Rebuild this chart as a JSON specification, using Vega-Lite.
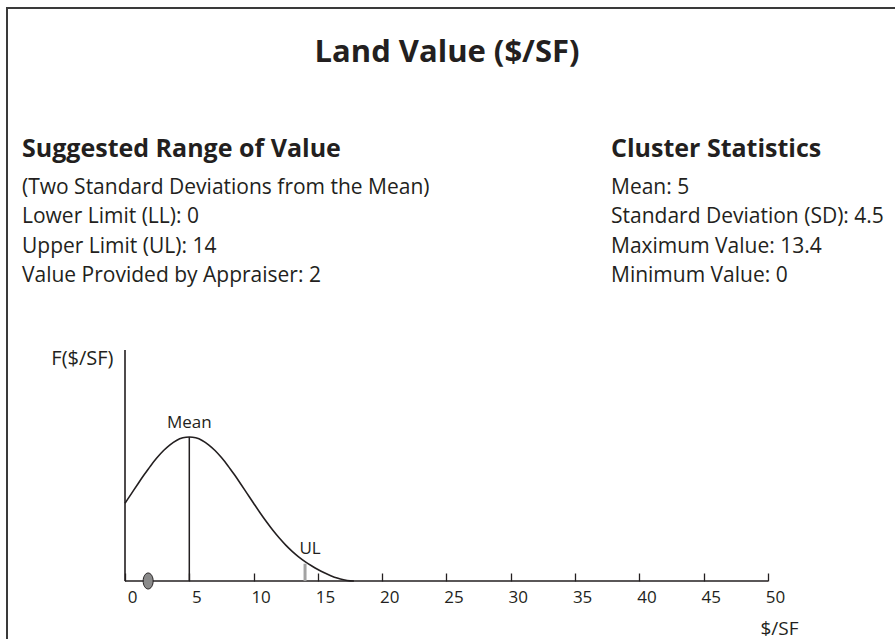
{
  "$schema": "https://vega.github.io/schema/vega-lite/v6.json",
  "autosize": "none",
  "width": 892,
  "height": 635,
  "padding": {"left": 7, "top": 8, "right": -4, "bottom": -4},
  "background": "white",
  "config": {
    "view": {"stroke": "#3a3a3a", "strokeWidth": 2, "fill": "white"},
    "font": "Open Sans",
    "text": {"color": "#231f20", "font": "Open Sans"}
  },
  "title": {
    "text": "Land Value ($/SF)",
    "anchor": "middle",
    "frame": "group",
    "offset": -85,
    "baseline": "alphabetic",
    "fontSize": 31,
    "fontWeight": "bold",
    "font": "Open Sans",
    "color": "#231f20",
    "dx": -6
  },
  "datasets": {
    "curve": [
      {"x": 0, "f": 0.54}, {"x": 0.5, "f": 0.607}, {"x": 1, "f": 0.674}, {"x": 1.5, "f": 0.739},
      {"x": 2, "f": 0.801}, {"x": 2.5, "f": 0.857}, {"x": 3, "f": 0.906}, {"x": 3.5, "f": 0.946},
      {"x": 4, "f": 0.976}, {"x": 4.5, "f": 0.994}, {"x": 5, "f": 1.0}, {"x": 5.5, "f": 0.994},
      {"x": 6, "f": 0.976}, {"x": 6.5, "f": 0.946}, {"x": 7, "f": 0.906}, {"x": 7.5, "f": 0.857},
      {"x": 8, "f": 0.801}, {"x": 8.5, "f": 0.739}, {"x": 9, "f": 0.674}, {"x": 9.5, "f": 0.607},
      {"x": 10, "f": 0.54}, {"x": 10.5, "f": 0.474}, {"x": 11, "f": 0.411}, {"x": 11.5, "f": 0.352},
      {"x": 12, "f": 0.298}, {"x": 12.5, "f": 0.249}, {"x": 13, "f": 0.206}, {"x": 13.5, "f": 0.168},
      {"x": 14, "f": 0.135}, {"x": 14.5, "f": 0.106}, {"x": 15, "f": 0.08}, {"x": 15.5, "f": 0.057},
      {"x": 16, "f": 0.037}, {"x": 16.5, "f": 0.02}, {"x": 17, "f": 0.008}, {"x": 17.5, "f": 0.001},
      {"x": 17.8, "f": 0}
    ],
    "axes": [
      {"name": "xaxis", "x": 0, "x2": 50, "y": 0, "y2": 0},
      {"name": "yaxis", "x": 0, "x2": 0, "y": 0, "y2": 1.604}
    ],
    "marks": [
      {"label": "Mean", "x": 5, "top": 1},
      {"label": "UL", "x": 14, "top": 0.12}
    ],
    "appraiser": [{"value": 1.8}],
    "texts": [
      {"col": "left", "line": 0, "kind": "head", "text": "Suggested Range of Value"},
      {"col": "left", "line": 1, "kind": "body", "text": "(Two Standard Deviations from the Mean)"},
      {"col": "left", "line": 2, "kind": "body", "text": "Lower Limit (LL): 0"},
      {"col": "left", "line": 3, "kind": "body", "text": "Upper Limit (UL): 14"},
      {"col": "left", "line": 4, "kind": "body", "text": "Value Provided by Appraiser: 2"},
      {"col": "right", "line": 0, "kind": "head", "text": "Cluster Statistics"},
      {"col": "right", "line": 1, "kind": "body", "text": "Mean: 5"},
      {"col": "right", "line": 2, "kind": "body", "text": "Standard Deviation (SD): 4.5"},
      {"col": "right", "line": 3, "kind": "body", "text": "Maximum Value: 13.4"},
      {"col": "right", "line": 4, "kind": "body", "text": "Minimum Value: 0"}
    ]
  },
  "layer": [
    {
      "layer": [
        {
          "data": {"name": "curve"},
          "mark": {"type": "line", "color": "#231f20", "strokeWidth": 1.6, "interpolate": "monotone"},
          "encoding": {
            "x": {
              "field": "x", "type": "quantitative",
              "scale": {"domain": [-9.176, 60.187], "nice": false, "zero": false},
              "axis": {
                "orient": "bottom", "offset": -62,
                "values": [0, 5, 10, 15, 20, 25, 30, 35, 40, 45, 50],
                "domain": false, "grid": false,
                "tickSize": -8, "tickColor": "#231f20", "tickWidth": 1.3,
                "labelPadding": 16, "labelOffset": 7, "labelFontSize": 17, "labelColor": "#231f20",
                "labelFont": "Open Sans", "labelFlush": false, "labelOverlap": false, "labelBound": false,
                "title": "$/SF", "titleX": 791, "titleY": 53, "titleAlign": "right", "titleAnchor": "start",
                "titleBaseline": "alphabetic", "titleFontSize": 19, "titleFontWeight": "normal",
                "titleColor": "#231f20", "titleFont": "Open Sans"
              }
            },
            "y": {
              "field": "f", "type": "quantitative",
              "scale": {"domain": [-0.4306, 3.979], "nice": false, "zero": false},
              "axis": {
                "orient": "left", "domain": false, "ticks": false, "labels": false, "grid": false,
                "title": "F($/SF)", "titleAngle": 0, "titleX": 106, "titleY": 356,
                "titleAlign": "right", "titleAnchor": "start", "titleBaseline": "alphabetic",
                "titleFontSize": 20, "titleFontWeight": "normal", "titleColor": "#231f20", "titleFont": "Open Sans"
              }
            }
          }
        },
        {
          "data": {"name": "axes"},
          "mark": {"type": "rule", "color": "#231f20", "strokeWidth": 1.6},
          "encoding": {
            "x": {"field": "x", "type": "quantitative"},
            "x2": {"field": "x2"},
            "y": {"field": "y", "type": "quantitative"},
            "y2": {"field": "y2"}
          }
        },
        {
          "data": {"name": "marks"},
          "transform": [{"filter": "datum.label === 'Mean'"}],
          "mark": {"type": "rule", "color": "#231f20", "strokeWidth": 1.5},
          "encoding": {
            "x": {"field": "x", "type": "quantitative"},
            "y": {"field": "top", "type": "quantitative"},
            "y2": {"datum": 0}
          }
        },
        {
          "data": {"name": "marks"},
          "transform": [{"filter": "datum.label === 'Mean'"}],
          "mark": {"type": "text", "align": "center", "baseline": "alphabetic", "dy": -9, "fontSize": 17, "color": "#231f20"},
          "encoding": {
            "x": {"field": "x", "type": "quantitative"},
            "y": {"field": "top", "type": "quantitative"},
            "text": {"field": "label"}
          }
        },
        {
          "data": {"name": "marks"},
          "transform": [{"filter": "datum.label === 'UL'"}],
          "mark": {"type": "rule", "color": "#a3a3a3", "strokeWidth": 3},
          "encoding": {
            "x": {"field": "x", "type": "quantitative"},
            "y": {"field": "top", "type": "quantitative"},
            "y2": {"datum": 0}
          }
        },
        {
          "data": {"name": "marks"},
          "transform": [{"filter": "datum.label === 'UL'"}],
          "mark": {"type": "text", "align": "center", "baseline": "alphabetic", "dx": 5, "dy": -10, "fontSize": 17, "color": "#231f20"},
          "encoding": {
            "x": {"field": "x", "type": "quantitative"},
            "y": {"field": "top", "type": "quantitative"},
            "text": {"field": "label"}
          }
        },
        {
          "data": {"name": "appraiser"},
          "mark": {
            "type": "point", "filled": true, "fill": "#8a8a8a", "stroke": "#231f20", "strokeWidth": 1, "opacity": 1,
            "shape": "M -0.625 0 A 0.625 1 0 1 1 0.625 0 A 0.625 1 0 1 1 -0.625 0 Z", "size": 256
          },
          "encoding": {
            "x": {"field": "value", "type": "quantitative"},
            "y": {"datum": 0, "type": "quantitative"}
          }
        }
      ]
    },
    {
      "data": {"name": "texts"},
      "layer": [
        {
          "transform": [{"filter": "datum.kind === 'head'"}],
          "mark": {"type": "text", "align": "left", "baseline": "middle", "dy": -10, "fontSize": 25, "fontWeight": "bold", "color": "#231f20"},
          "encoding": {
            "x": {"field": "col", "type": "nominal", "scale": {"type": "point", "domain": ["left", "right"], "range": [15, 604], "padding": 0}, "axis": null},
            "y": {"field": "line", "type": "ordinal", "scale": {"type": "point", "domain": [0, 1, 2, 3, 4], "range": [150.7, 268], "padding": 0}, "axis": null},
            "text": {"field": "text"}
          }
        },
        {
          "transform": [{"filter": "datum.kind === 'body'"}],
          "mark": {"type": "text", "align": "left", "baseline": "middle", "fontSize": 21, "color": "#231f20"},
          "encoding": {
            "x": {"field": "col", "type": "nominal", "scale": {"type": "point", "domain": ["left", "right"], "range": [15, 604], "padding": 0}, "axis": null},
            "y": {"field": "line", "type": "ordinal", "scale": {"type": "point", "domain": [0, 1, 2, 3, 4], "range": [150.7, 268], "padding": 0}, "axis": null},
            "text": {"field": "text"}
          }
        }
      ]
    }
  ],
  "resolve": {"scale": {"x": "independent", "y": "independent"}}
}
